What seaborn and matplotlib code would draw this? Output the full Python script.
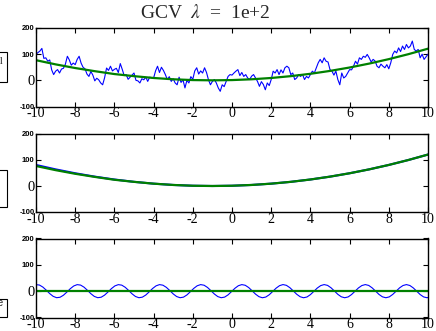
import numpy as np
import pandas as pd
import matplotlib
matplotlib.use("Agg")
import matplotlib.pyplot as plt
import seaborn as sns
from matplotlib.patches import Rectangle

# ---------------- data ----------------
title_text = r"GCV  $\lambda$  =  1e+2"
xtick_values = [-10, -8, -6, -4, -2, 0, 2, 4, 6, 8, 10]
xtick_labels = ["-10", "-8", "-6", "-4", "-2", "0", "2", "4", "6", "8", "10"]
ytick_values = [-100, 0, 100, 200]
ytick_labels = ["-100", "0", "100", "200"]
legend_labels = ["signal", "sine"]

# noisy signal sampled every 0.1 from -10 to 10
noisy_signal = [
    100, 106, 112, 122, 84, 86, 73, 78, 40, 22,
    35, 41, 28, 43, 46, 62, 92, 78, 58, 66,
    60, 80, 92, 66, 50, 44, 24, 15, 34, 20,
    -2, 8, 2, -10, -17, 10, 47, 38, 54, 36,
    42, 46, 30, 64, 42, 18, 22, 4, 12, 20,
    28,
    0, -2, -10, 6, 2, 12, -4, 12, 10, 9,
    36, 54, 30, 50, 38, 22, 3, 14, -4, 6,
    -10, -17, 12, -8, 2, -29, 0, -10, 14, 4,
    36, 48, 24, 36, 28, 48, 30, 2, -17, -4,
    3, -10, -29, -42, -17, -24, -4, 15, 22, 20,
    28, 35, 41, 18, 30, 15, 22, 9, 3, 16,
    22, 9, -4, -23, -5, -16, -36, -10, -20, 3,
    35, 28, 41, 22, 40, 28, 48, 54, 48, 22,
    28, 3, 9, 22, 15, 22, 3, 15, 9, 22,
    35, 28, 48, 67, 80, 67, 86, 73,
    70, 41, 35, 20, 35, 3, -17, 28, 9, 15,
    28, 41, 40, 54, 73, 62, 86, 80, 92, 88,
    99, 86, 70, 80, 74, 54, 48, 62, 54, 48,
    60, 44, 67, 99, 112, 105, 124, 110, 131, 118,
    137, 124, 131, 150, 118, 112, 118, 86, 100, 80,
    90, 100,
]
noisy_x = np.linspace(-10, 10, len(noisy_signal))

# trend, sampled at integers -10..10
trend_x = np.arange(-10, 11)
trend_true = [81, 64, 49, 36, 25, 16, 9, 4, 1, 0, 1, 4, 9, 16, 25, 36, 49, 64, 81, 100, 121]
trend_fit = [77, 61, 47, 35, 24, 16, 9, 4, 1, 0, 1, 4, 9, 16, 25, 36, 49, 64, 81, 100, 121]
sine_fit = [1, 1, 1, 1, 1, 1, 1, 1, 1, 1, 1, 1, 1, 1, 1, 1, 1, 1, 1, 1, 1]

# periodic component, sampled every 0.175 from -10
sine_values = [
    24.7, 23.3, 15.5, 3.7, -9.2, -19.6, -24.8, -23.2, -15.4, -3.5, 9.4, 19.7,
    24.8, 23.1, 15.2, 3.2, -9.6, -19.9, -24.8, -23.0, -15.0, -3.0, 9.8, 20.0,
    24.8, 22.9, 14.8, 2.8, -10.0, -20.2, -24.9, -22.8, -14.7, -2.6, 10.2, 20.2,
    24.9, 22.7, 14.5, 2.4, -10.4, -20.4, -24.9, -22.7, -14.3, -2.2, 10.6, 20.5,
    24.9, 22.6, 14.1, 1.9, -10.8, -20.6, -24.9, -22.5, -14.0, -1.7, 11.0, 20.7,
    24.9, 22.4, 13.8, 1.5, -11.2, -20.9, -25.0, -22.3, -13.6, -1.3, 11.4, 20.9,
    25.0, 22.2, 13.4, 1.0, -11.6, -21.1, -25.0, -22.1, -13.2, -0.9, 11.8, 21.1,
    25.0, 22.0, 13.0, 0.6, -12.0, -21.3, -25.0, -21.9, -12.8, -0.4, 12.2, 21.3,
    25.0, 21.8, 12.6, 0.2, -12.4, -21.5, -25.0, -21.7, -12.4, 0.0, 12.6, 21.5,
    25.0, 21.5, 12.3, -0.3, -12.8, -21.8, -25.0, -21.4,
]
sine_x = -10 + 0.175 * np.arange(len(sine_values))

# ---------------- figure ----------------
sns.set_style("ticks")
plt.rcParams["mathtext.fontset"] = "stix"
SERIF = "Liberation Serif"
SANS = "Liberation Sans"

W, H = 436, 331
fig = plt.figure(figsize=(W / 100, H / 100), dpi=100)


def make_axes(top, bottom):
    return fig.add_axes([36 / W, 1 - bottom / H, 392 / W, (bottom - top) / H])


def style_axes(ax):
    ax.set_xlim(-10, 10)
    ax.set_ylim(-100, 200)
    ax.set_xticks(xtick_values)
    ax.set_xticklabels(xtick_labels, fontfamily=SERIF, fontsize=10)
    ax.set_yticks(ytick_values)
    labs = ax.set_yticklabels(ytick_labels)
    for lab in labs:
        if lab.get_text() == "0":
            lab.set_fontfamily(SERIF)
            lab.set_fontsize(10.5)
        else:
            lab.set_fontfamily(SANS)
            lab.set_fontsize(5.5)
            lab.set_fontweight("bold")
    ax.tick_params(axis="both", direction="in", top=True, right=True,
                   length=3.5, width=0.8, colors="black")
    ax.tick_params(axis="x", pad=0.5)
    ax.tick_params(axis="y", pad=1.0)
    for sp in ax.spines.values():
        sp.set_visible(True)
        sp.set_color("black")
        sp.set_linewidth(1.0)
    ax.set_xlabel("")
    ax.set_ylabel("")


ax1 = make_axes(28, 106.5)
ax2 = make_axes(134, 212)
ax3 = make_axes(238.5, 317.5)

df_noisy = pd.DataFrame({"x": noisy_x, "y": noisy_signal})
df_trend = pd.DataFrame({"x": trend_x, "true": trend_true, "fit": trend_fit, "sfit": sine_fit})
df_sine = pd.DataFrame({"x": sine_x, "y": sine_values})

sns.lineplot(data=df_noisy, x="x", y="y", ax=ax1, color="#0000ff", lw=0.8,
             estimator=None, sort=False, legend=False)
sns.lineplot(data=df_trend, x="x", y="fit", ax=ax1, color="#008000", lw=1.6,
             estimator=None, sort=False, legend=False)

sns.lineplot(data=df_trend, x="x", y="true", ax=ax2, color="#0000ff", lw=1.5,
             estimator=None, sort=False, legend=False)
sns.lineplot(data=df_trend, x="x", y="fit", ax=ax2, color="#008000", lw=1.6,
             estimator=None, sort=False, legend=False)

sns.lineplot(data=df_sine, x="x", y="y", ax=ax3, color="#0000ff", lw=0.8,
             estimator=None, sort=False, legend=False)
sns.lineplot(data=df_trend, x="x", y="sfit", ax=ax3, color="#008000", lw=1.6,
             estimator=None, sort=False, legend=False)

for ax in (ax1, ax2, ax3):
    style_axes(ax)

# legend boxes sitting off the left edge of the canvas
for top, bottom in [(52, 82), (170, 207), (299, 317)]:
    fig.patches.append(Rectangle((-20 / W, 1 - bottom / H), 26.7 / W, (bottom - top) / H,
                                 transform=fig.transFigure, facecolor="white",
                                 edgecolor="black", lw=0.8, clip_on=False))
fig.text(3.8 / W, 1 - 63.5 / H, legend_labels[0], ha="right", va="baseline",
         fontfamily=SERIF, fontsize=7.5)
fig.text(3.6 / W, 1 - 306.5 / H, legend_labels[1], ha="right", va="baseline",
         fontfamily=SANS, fontsize=7.5)

fig.text(205.5 / W, 1 - 18.3 / H, title_text, ha="center", va="baseline",
         fontfamily=SERIF, fontsize=14)

fig.savefig("out.png", dpi=100)
